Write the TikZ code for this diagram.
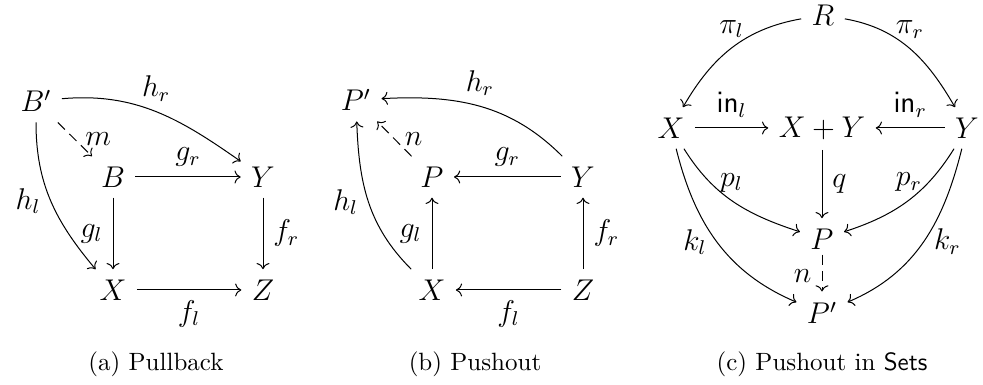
\documentclass[tikz,border=0pt]{standalone}
\usetikzlibrary{arrows.meta}
\newcommand{\dgsize}{\fontsize{11.5}{14}\selectfont}
\tikzset{
  obj/.style={inner sep=4pt, font=\dgsize},
  lbl/.style={inner sep=4pt, font=\dgsize},
  map/.style={-{To}},
  dmap/.style={-{To}, dash pattern=on 4pt off 2.5pt},
  capt/.style={anchor=base, inner sep=0pt}
}
\begin{document}
\begin{tikzpicture}[x=0.4pt,y=0.4pt]
  \useasboundingbox (0,0) rectangle (983,385);
  % (a) pullback
  \node[obj] (aBp) at (36,284) {$B'$};
  \node[obj] (aB) at (113,208) {$B$};
  \node[obj] (aY) at (263,208) {$Y$};
  \node[obj] (aX) at (113,95) {$X$};
  \node[obj] (aZ) at (263,95) {$Z$};
  \draw[map] (aBp) to[out=5,in=145] node[lbl,above] {$h_r$} (aY);
  \draw[map] (aBp) to[out=-90,in=130] node[lbl,left] {$h_l$} (aX);
  \draw[dmap] (aBp) -- node[lbl,right] {$m$} (aB);
  \draw[map] (aB) -- node[lbl,above] {$g_r$} (aY);
  \draw[map] (aB) -- node[lbl,left] {$g_l$} (aX);
  \draw[map] (aY) -- node[lbl,right] {$f_r$} (aZ);
  \draw[map] (aX) -- node[lbl,below] {$f_l$} (aZ);
  \node[capt] (acap) at (156,14) {(a) Pullback};
  % (b) pushout
  \node[obj] (bPp) at (356,285) {$P'$};
  \node[obj] (bP) at (432,208) {$P$};
  \node[obj] (bY) at (583,208) {$Y$};
  \node[obj] (bX) at (432,95) {$X$};
  \node[obj] (bZ) at (583,95) {$Z$};
  \draw[map] (bY) to[out=135,in=3] node[lbl,above] {$h_r$} (bPp);
  \draw[map] (bX) to[out=135,in=-88] node[lbl,left] {$h_l$} (bPp);
  \draw[dmap] (bP) -- node[lbl,right] {$n$} (bPp);
  \draw[map] (bY) -- node[lbl,above] {$g_r$} (bP);
  \draw[map] (bX) -- node[lbl,left] {$g_l$} (bP);
  \draw[map] (bZ) -- node[lbl,right] {$f_r$} (bY);
  \draw[map] (bZ) -- node[lbl,below] {$f_l$} (bX);
  \node[capt] (bcap) at (475,14) {(b) Pushout};
  % (c) pushout in Sets
  \node[obj] (cR) at (823,370) {$R$};
  \node[obj] (cX) at (671,257) {$X$};
  \node[obj] (cS) at (822,257) {$X+Y$};
  \node[obj] (cY) at (967,257) {$Y$};
  \node[obj] (cP) at (822,146) {$P$};
  \node[obj] (cPp) at (822,72) {$P'$};
  \draw[map] (cR) to[out=190,in=60] node[lbl,above] {$\pi_l$} (cX);
  \draw[map] (cR) to[out=-10,in=120] node[lbl,above] {$\pi_r$} (cY);
  \draw[map] (cX) -- node[lbl,above] {$\mathsf{in}_l$} (cS);
  \draw[map] (cY) -- node[lbl,above] {$\mathsf{in}_r$} (cS);
  \draw[map] (cS) -- node[lbl,right] {$q$} (cP);
  \draw[map] (cX) to[out=-58,in=162] node[lbl,above,inner sep=0pt,pos=0.45,xshift=1.5pt,yshift=2pt] {$p_l$} (cP);
  \draw[map] (cY) to[out=-122,in=18] node[lbl,above,inner sep=0pt,pos=0.45,xshift=-1.5pt,yshift=2pt] {$p_r$} (cP);
  \draw[map] (cX) to[out=-76,in=157] node[lbl,left] {$k_l$} (cPp);
  \draw[map] (cY) to[out=-104,in=23] node[lbl,right] {$k_r$} (cPp);
  \draw[dmap,shorten <=-2pt] (cP) -- node[lbl,left] {$n$} (cPp);
  \node[capt] (ccap) at (822,14) {(c) Pushout in \textsf{Sets}};
\end{tikzpicture}
\end{document}
